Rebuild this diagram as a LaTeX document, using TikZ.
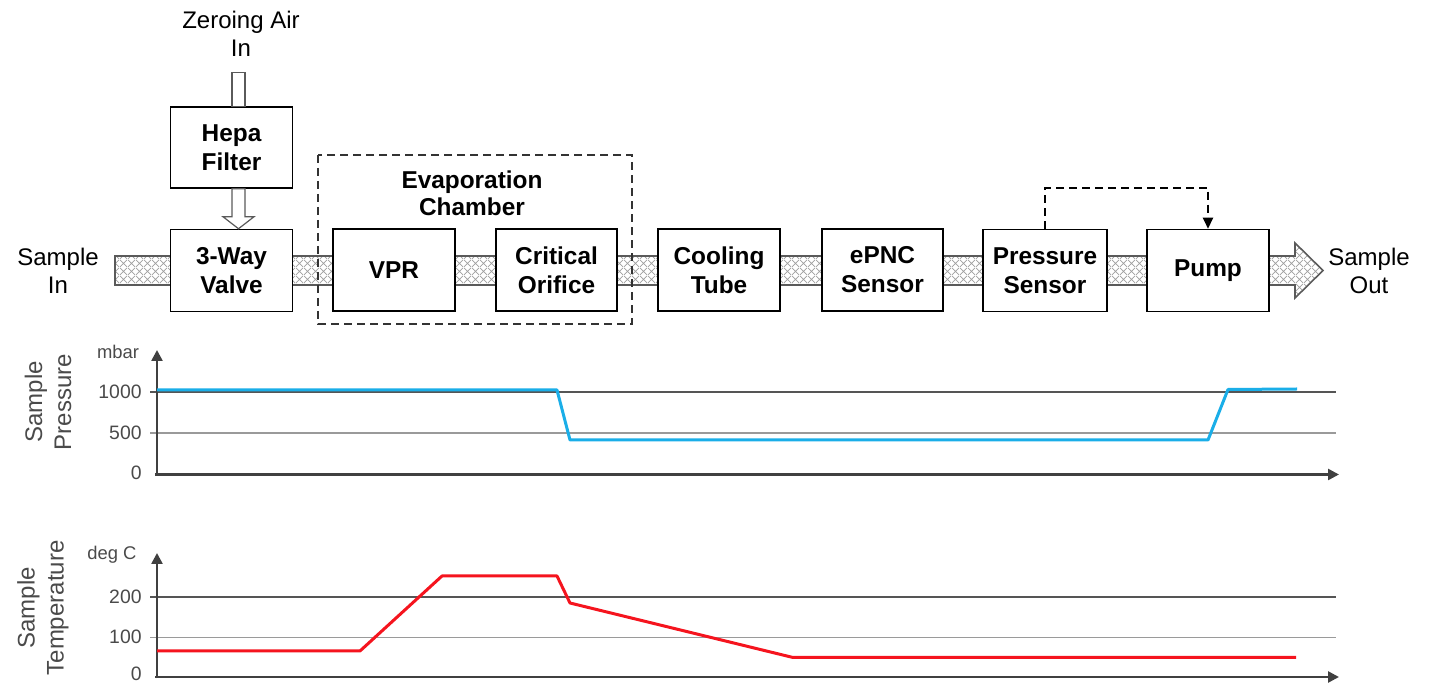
\documentclass[tikz,border=0pt]{standalone}
\usepackage{fontspec}
\setmainfont{Liberation Sans}
\usetikzlibrary{patterns,patterns.meta,arrows.meta,calc}
\definecolor{pipeedge}{HTML}{5A5A5A}
\definecolor{axisgray}{HTML}{404040}
\definecolor{labelgray}{HTML}{4A4A4A}
\definecolor{griddark}{HTML}{555555}
\definecolor{gridlight}{HTML}{9A9A9A}
\definecolor{pblue}{HTML}{1AAEE8}
\definecolor{tred}{HTML}{F5141E}
\tikzdeclarepattern{
  name=pipecross,
  type=uncolored,
  bounding box={(0pt,0pt) and (4pt,4pt)},
  tile size={(4pt,4pt)},
  code={
    \pgfsetlinewidth{0.4pt}
    \pgfpathmoveto{\pgfpoint{0pt}{0pt}}\pgfpathlineto{\pgfpoint{4pt}{4pt}}
    \pgfpathmoveto{\pgfpoint{0pt}{4pt}}\pgfpathlineto{\pgfpoint{4pt}{0pt}}
    \pgfusepath{stroke}
  }
}
\begin{document}
\begin{tikzpicture}[x=0.5pt,y=-0.5pt,
  box/.style={draw=black, line width=0.75pt, fill=white, minimum width=61pt, minimum height=41pt, inner sep=0pt, align=center, font=\fontsize{12.2}{14.5}\selectfont\bfseries},
  plain/.style={align=center, font=\fontsize{12}{14.2}\selectfont},
  pipe/.style={draw=pipeedge, line width=0.8pt, preaction={fill=white}, pattern=pipecross, pattern color=gray!75},
  hollow/.style={draw=pipeedge, line width=0.6pt, fill=white},
  chamber/.style={draw=black!80, line width=0.6pt, dash pattern=on 4pt off 2.5pt},
  fb/.style={draw=black, line width=1pt, dash pattern=on 4pt off 2.5pt, -{Triangle[length=5.5pt,width=5pt]}},
  axis/.style={draw=axisgray, line width=1.25pt, -{Triangle[length=5.5pt,width=5.5pt]}},
  gridd/.style={draw=griddark, line width=0.6pt},
  gridl/.style={draw=gridlight, line width=0.6pt},
  tick/.style={anchor=east, text=labelgray, inner sep=0pt, font=\fontsize{9.7}{11}\selectfont},
  unit/.style={text=labelgray, inner sep=0pt, font=\fontsize{9.2}{11}\selectfont},
  ylab/.style={rotate=90, align=center, text=labelgray, font=\fontsize{12}{14.5}\selectfont},
  curve/.style={line width=1.5pt, line join=round}
]
\useasboundingbox (0,0) rectangle (1436,683);

% ---------- pipe (drawn first, behind boxes) ----------
\coordinate (pipestart) at (115,256);
\draw[pipe] (pipestart) -- (1295,256) -- (1295,243) -- (1323,270.5) -- (1295,298) -- (1295,285) -- (115,285) -- cycle;

% ---------- blocks ----------
\node[box, minimum height=40.5pt] (hepa) at (231.5,147.5) {Hepa\\Filter};
\node[box] (valve) at (231.5,270.5) {3-Way\\Valve};
\node[box] (vpr) at (394,270) {VPR};
\node[box, minimum width=60.5pt] (orifice) at (556.5,270) {Critical\\Orifice};
\node[box] (cooling) at (719,270) {Cooling\\Tube};
\node[box, minimum width=60.5pt] (epnc) at (882.5,270) {ePNC\\Sensor};
\node[box, minimum width=62pt] (psensor) at (1045,270.5) {Pressure\\Sensor};
\node[box] (pump) at (1208,270.5) {Pump};

% ---------- texts ----------
\node[plain] (zeroin) at (241,34) {Zeroing Air\\In};
\node[plain] (sin) at (58,271) {Sample\\In};
\node[plain] (sout) at (1369,271) {Sample\\Out};
\node[plain, font=\fontsize{12.2}{13.5}\selectfont\bfseries] (evap) at (472,193) {Evaporation\\Chamber};

% ---------- evaporation chamber ----------
\draw[chamber] (318,155) rectangle (632,324);

% ---------- zeroing air hollow arrows ----------
\draw[hollow] ($(hepa.north)+(0.5,0)$) -- ++(0,-34) -- ++(13,0) -- ($(hepa.north)+(13.5,0)$) -- cycle;
\draw[hollow] ($(hepa.south)+(0.5,0)$) -- ++(0,28) -- ++(-9,0) -- ($(valve.north)+(7,0)$) -- ($(hepa.south)+(22.5,28)$) -- ++(-9,0) -- ($(hepa.south)+(13.5,0)$) -- cycle;

% ---------- feedback ----------
\draw[fb] (psensor.north) -- ++(0,-41) -| (pump.north);

% ---------- pressure chart ----------
\draw[gridd] (150,392) -- (1336,392);
\draw[gridl] (150,433) -- (1336,433);
\draw[axis] (155,474.5) -- (1339,474.5);
\draw[axis] (157,476) -- (157,350);
\node[tick] (p1000) at (142,392) {1000};
\node[tick] (p500) at (142,433) {500};
\node[tick] (p0) at (142,473) {0};
\node[unit] (pu) at (118,352) {mbar};
\node[ylab] (plab) at (48,402) {Sample\\Pressure};
\draw[curve, pblue] (157,390) -- (557,390) -- (570,440) -- (1208,440) -- (1228,389.5) -- (1297,389);

% ---------- temperature chart ----------
\draw[gridd] (150,597) -- (1336,597);
\draw[gridl] (150,637.5) -- (1336,637.5);
\draw[axis] (155,677) -- (1339,677);
\draw[axis] (157,678.5) -- (157,553);
\node[tick] (t200) at (142,597) {200};
\node[tick] (t100) at (142,637) {100};
\node[tick] (t0) at (142,673.5) {0};
\node[unit] (tu) at (112,555) {deg C};
\node[ylab] (tlab) at (43,608) {Sample\\Temperature};
\draw[curve, tred] (157,651) -- (360,651) -- (442,576) -- (557,576) -- (570,603) -- (793,657.5) -- (1296,657.5);
\end{tikzpicture}
\end{document}
